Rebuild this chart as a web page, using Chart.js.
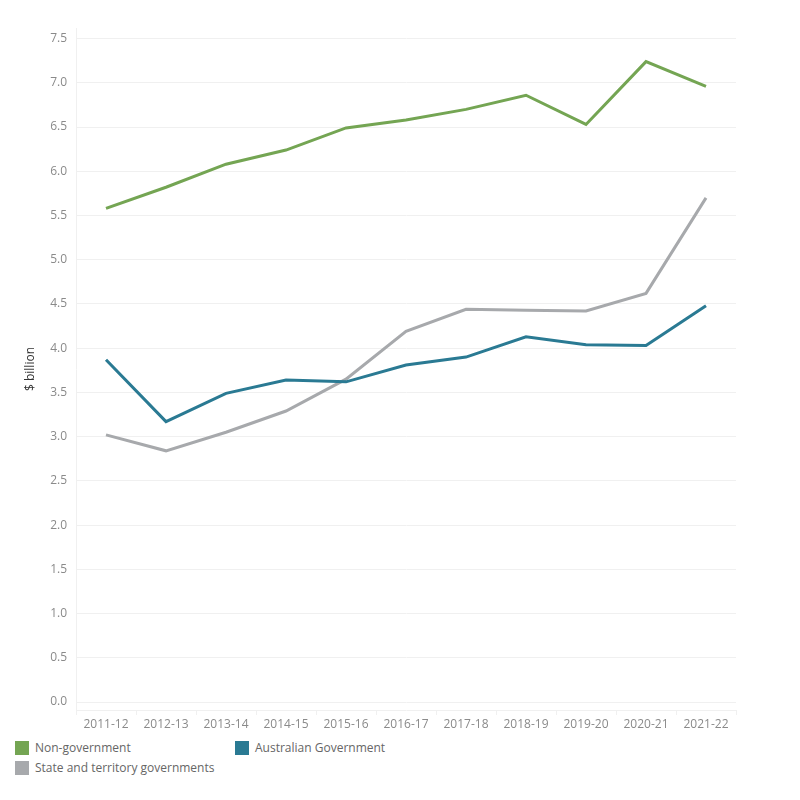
<!DOCTYPE html>
<html lang="en">
<head>
<meta charset="UTF-8">
<title>Spending by source of funds</title>
<script src="https://cdn.jsdelivr.net/npm/chart.js@4.4.0/dist/chart.umd.min.js"></script>
<style>
  body { margin: 0; background: #fff; font-family: "Open Sans", sans-serif; }
  #wrap { position: absolute; left: 0; top: 0; width: 800px; height: 735px; }
  #legend { position: absolute; left: 0; top: 738px; width: 800px; height: 50px; }
  .item { position: absolute; font-size: 12px; color: #666; line-height: 16px; }
  .item span { display: inline-block; width: 14px; height: 14px; vertical-align: -3px; margin-right: 6px; }
</style>
</head>
<body>
<div id="wrap"><canvas id="chart"></canvas></div>
<div id="legend"></div>
<script>
const years = ["2011-12","2012-13","2013-14","2014-15","2015-16","2016-17","2017-18","2018-19","2019-20","2020-21","2021-22"]
const nonGov = [5.58, 5.82, 6.08, 6.24, 6.49, 6.58, 6.70, 6.86, 6.53, 7.24, 6.96]
const ausGov = [3.87, 3.17, 3.49, 3.64, 3.62, 3.81, 3.90, 4.13, 4.04, 4.03, 4.48]
const stateGov = [3.02, 2.84, 3.05, 3.29, 3.65, 4.19, 4.44, 4.43, 4.42, 4.62, 5.70]
const yTicks = [0, 0.5, 1, 1.5, 2, 2.5, 3, 3.5, 4, 4.5, 5, 5.5, 6, 6.5, 7, 7.5]

const green = "#74a553"
const teal = "#2a7a93"
const grey = "#a7a9ac"

const tickColor = "#8a8a8a"
const gridColor = "#f0f0f0"

new Chart("chart", {
  type: "line",
  data: {
    labels: years,
    datasets: [
      { label: "Non-government", data: nonGov, borderColor: green, backgroundColor: green },
      { label: "Australian Government", data: ausGov, borderColor: teal, backgroundColor: teal },
      { label: "State and territory governments", data: stateGov, borderColor: grey, backgroundColor: grey }
    ]
  },
  options: {
    responsive: true,
    maintainAspectRatio: false,
    animation: false,
    elements: {
      line: { borderWidth: 3, tension: 0 },
      point: { radius: 0, hoverRadius: 0 }
    },
    layout: { padding: { top: 28, right: 64, left: 0, bottom: 0 } },
    plugins: { legend: { display: false }, tooltip: { enabled: false } },
    scales: {
      x: {
        offset: true,
        grid: { offset: true, drawOnChartArea: false, drawTicks: true, tickLength: 5, color: gridColor },
        border: { color: gridColor },
        ticks: { color: tickColor, padding: 2, maxRotation: 0, autoSkip: false, font: { family: "Open Sans", size: 12 } },
        afterFit: s => { s.height = 25 }
      },
      y: {
        min: -0.09,
        max: 7.62,
        afterBuildTicks: s => { s.ticks = yTicks.map(v => ({ value: v })) },
        grid: { color: gridColor, drawTicks: false },
        border: { color: gridColor },
        ticks: { color: tickColor, padding: 9, font: { family: "Open Sans", size: 12 }, callback: v => v.toFixed(1) },
        title: { display: true, text: "$ billion", color: "#333", padding: { top: 23, bottom: 0 }, font: { family: "Open Sans", size: 12 } },
        afterFit: s => { s.width = 76 }
      }
    }
  }
})

// legend laid out in two columns like the original
const legendItems = [
  { text: "Non-government", color: green, x: 15, y: 740 },
  { text: "Australian Government", color: teal, x: 235, y: 740 },
  { text: "State and territory governments", color: grey, x: 15, y: 760 }
]
const legend = document.getElementById("legend")
legendItems.forEach(it => {
  const d = document.createElement("div")
  d.className = "item"
  d.style.left = it.x + "px"
  d.style.top = (it.y - 738) + "px"
  d.innerHTML = '<span style="background:' + it.color + '"></span>' + it.text
  legend.appendChild(d)
})
</script>
</body>
</html>
